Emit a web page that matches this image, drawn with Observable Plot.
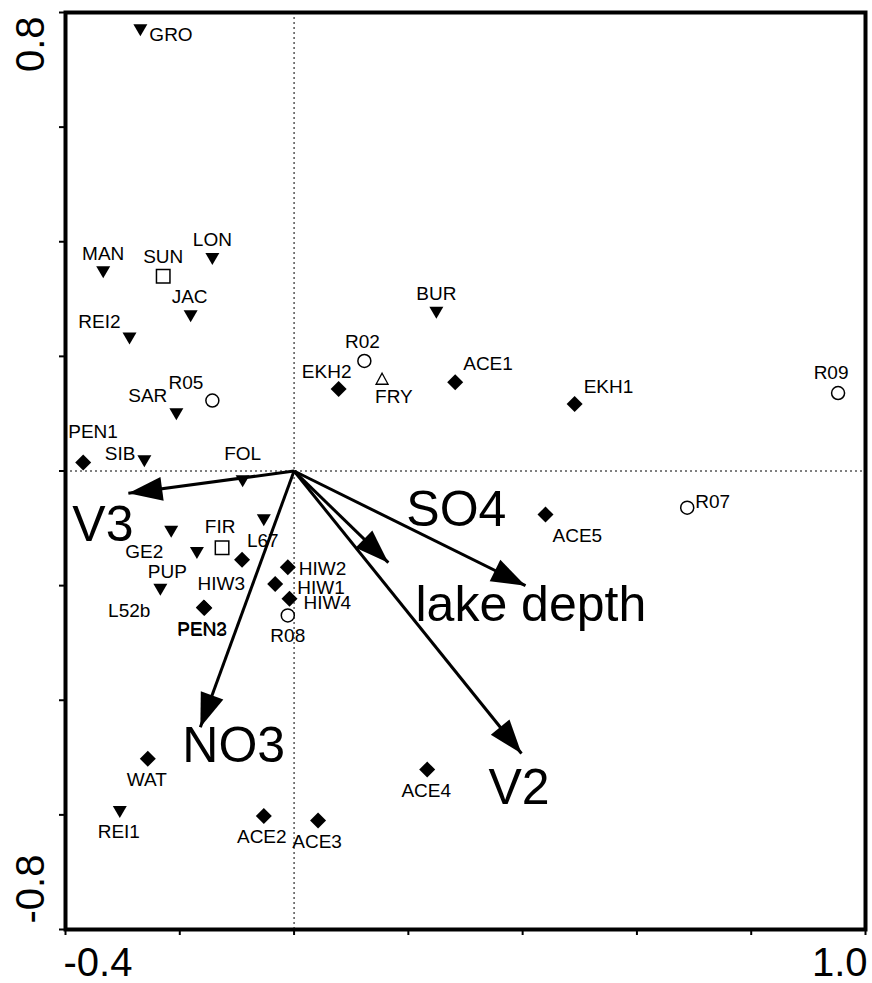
<!DOCTYPE html>
<html>
<head>
<meta charset="utf-8">
<script src="https://cdn.jsdelivr.net/npm/d3@7"></script>
<script src="https://cdn.jsdelivr.net/npm/@observablehq/plot@0.6"></script>
<style>
  html, body { margin: 0; padding: 0; background: #fff; }
  #chart svg { display: block; }
</style>
</head>
<body>
<div id="chart"></div>
<script>
// ---- Site scores (ordination axis 1, axis 2) ----
const siteNames = ["GRO","MAN","SUN","LON","JAC","REI2","R05","SAR","PEN1","SIB","FOL",
  "BUR","R02","EKH2","FRY","ACE1","EKH1","R09","R07","ACE5",
  "GE2","FIR","PUP","L67","HIW3","L52b","PEN2","PEN3","HIW2","HIW1","HIW4","R08",
  "WAT","REI1","ACE2","ACE3","ACE4"];
const siteX = [-0.269,-0.334,-0.229,-0.143,-0.181,-0.288,-0.143,-0.206,-0.369,-0.262,-0.090,
  0.249,0.123,0.078,0.154,0.282,0.491,0.952,0.688,0.440,
  -0.215,-0.126,-0.170,-0.053,-0.091,-0.234,-0.158,-0.157,-0.011,-0.033,-0.008,-0.011,
  -0.256,-0.305,-0.053,0.042,0.233];
const siteY = [0.769,0.347,0.340,0.370,0.270,0.231,0.123,0.099,0.015,0.017,-0.018,
  0.276,0.192,0.143,0.161,0.155,0.117,0.136,-0.064,-0.076,
  -0.106,-0.134,-0.143,-0.086,-0.155,-0.207,-0.238,-0.239,-0.168,-0.197,-0.223,-0.252,
  -0.502,-0.595,-0.602,-0.610,-0.521];
const siteGroup = ["tri","tri","square","tri","tri","tri","circle","tri","diamond","tri","tri",
  "tri","circle","diamond","triUp","diamond","diamond","circle","circle","diamond",
  "tri","square","tri","tri","diamond","tri","diamond","diamond","diamond","diamond","diamond","circle",
  "diamond","tri","diamond","diamond","diamond"];
// label placement: [text anchor, dx, dy] relative to the marker
const labelPlacement = [["start",9,11],["middle",0,-12],["middle",0,-13],["middle",0,-13],["middle",-1,-13],
  ["end",-9,-11],["end",-9,-12],["end",-9,-12],["start",-15,-24],["end",-9,-1],["middle",0,-21],
  ["middle",0,-13],["middle",-2,-13],["middle",-12,-11],["start",-7,24],["start",8,-12],["start",9,-11],
  ["middle",-7,-14],["start",8,0],["start",7,27],
  ["end",-8,26],["middle",-2,-15],["end",-10,25],["middle",-1,27],["end",3,30],["end",-10,27],
  ["middle",-2,28],["middle",-2,28],["start",11,8],["start",22,10],["start",14,10],["middle",0,27],
  ["middle",-1,27],["middle",-1,26],["middle",-2,27],["middle",-1,27],["middle",-1,27]];

// ---- Environmental variable arrows (biplot scores) ----
const varNames = ["V3","NO3","SO4","lake depth","V2"];
const varX = [-0.290,-0.164,0.165,0.405,0.398];
const varY = [-0.039,-0.447,-0.160,-0.200,-0.493];
const varLabelPlacement = [[-56,48],[-18,35],[18,-37],[-110,35],[-33,50]];

// ---- Axes ----
const xTicks = [-0.4,-0.2,0,0.2,0.4,0.6,0.8,1.0];
const yTicks = [-0.8,-0.6,-0.4,-0.2,0,0.2,0.4,0.6,0.8];
const xTickLabels = [{v: -0.4, t: "-0.4"}, {v: 1.0, t: "1.0"}];
const yTickLabels = [{v: 0.8, t: "0.8"}, {v: -0.8, t: "-0.8"}];

const sites = siteNames.map((name, i) => ({name, x: siteX[i], y: siteY[i], group: siteGroup[i], place: labelPlacement[i]}));
const vars = varNames.map((name, i) => ({name, x: varX[i], y: varY[i], place: varLabelPlacement[i],
  angle: Math.atan2(-varY[i], varX[i]) * 180 / Math.PI}));

const triDown = {draw(c) { c.moveTo(-7,-6); c.lineTo(7,-6); c.lineTo(0,6); c.closePath(); }};
const diamond = {draw(c) { c.moveTo(0,-8); c.lineTo(8,0); c.lineTo(0,8); c.lineTo(-8,0); c.closePath(); }};
const square = {draw(c) { c.rect(-6.75,-6.75,13.5,13.5); }};
const triUp = {draw(c) { c.moveTo(0,-5.5); c.lineTo(6,5.5); c.lineTo(-6,5.5); c.closePath(); }};
const head = {draw(c) { c.moveTo(0,0); c.lineTo(-34,-12); c.lineTo(-34,12); c.closePath(); }};

const font = "'Liberation Sans', Arial, sans-serif";

const siteLabels = sites.map(d => Plot.text([d], {
  x: "x", y: "y", text: "name", textAnchor: d.place[0], dx: d.place[1], dy: d.place[2],
  lineAnchor: "bottom", fontSize: 19, fill: "black"
}));
const varLabels = vars.map(d => Plot.text([d], {
  x: "x", y: "y", text: "name", textAnchor: "start", dx: d.place[0], dy: d.place[1],
  lineAnchor: "bottom", fontSize: 50, fill: "black"
}));

const chart = Plot.plot({
  width: 872,
  height: 983,
  marginLeft: 65,
  marginRight: 7,
  marginTop: 12,
  marginBottom: 54,
  style: {fontFamily: font, background: "white"},
  x: {domain: [-0.4, 1.0], label: null},
  y: {domain: [-0.8, 0.8], label: null},
  marks: [
    Plot.ruleX([0], {stroke: "black", strokeWidth: 1, strokeDasharray: "2,3"}),
    Plot.ruleY([0], {stroke: "black", strokeWidth: 1, strokeDasharray: "2,3"}),
    Plot.link(vars, {x1: () => 0, y1: () => 0, x2: "x", y2: "y", stroke: "black", strokeWidth: 3}),
    Plot.dot(vars, {x: "x", y: "y", symbol: head, r: 10, rotate: "angle", fill: "black", stroke: "none"}),
    Plot.dot(sites.filter(d => d.group === "tri"), {x: "x", y: "y", symbol: triDown, r: 5, fill: "black", stroke: "none"}),
    Plot.dot(sites.filter(d => d.group === "diamond"), {x: "x", y: "y", symbol: diamond, r: 5, fill: "black", stroke: "none"}),
    Plot.dot(sites.filter(d => d.group === "square"), {x: "x", y: "y", symbol: square, r: 5, fill: "white", stroke: "black", strokeWidth: 1.5}),
    Plot.dot(sites.filter(d => d.group === "circle"), {x: "x", y: "y", symbol: "circle", r: 6.5, fill: "white", stroke: "black", strokeWidth: 1.5}),
    Plot.dot(sites.filter(d => d.group === "triUp"), {x: "x", y: "y", symbol: triUp, r: 5, fill: "white", stroke: "black", strokeWidth: 1.3}),
    ...siteLabels,
    ...varLabels,
    Plot.axisX({ticks: xTicks, tickSize: 6, tickFormat: () => "", label: null, strokeWidth: 2}),
    Plot.axisY({ticks: yTicks, tickSize: 6, tickFormat: () => "", label: null, strokeWidth: 2}),
    Plot.frame({stroke: "black", strokeWidth: 4}),
    Plot.text(xTickLabels.slice(0, 1), {x: "v", y: () => -0.8, text: "t", textAnchor: "start", dx: -2, dy: 46, lineAnchor: "bottom", fontSize: 40, fill: "black"}),
    Plot.text(xTickLabels.slice(1), {x: "v", y: () => -0.8, text: "t", textAnchor: "end", dx: 2, dy: 46, lineAnchor: "bottom", fontSize: 40, fill: "black"}),
    Plot.text(yTickLabels.slice(0, 1), {x: () => -0.4, y: "v", text: "t", rotate: -90, textAnchor: "end", dx: -22, dy: 4, lineAnchor: "bottom", fontSize: 40, fill: "black"}),
    Plot.text(yTickLabels.slice(1), {x: () => -0.4, y: "v", text: "t", rotate: -90, textAnchor: "start", dx: -22, dy: -6, lineAnchor: "bottom", fontSize: 40, fill: "black"})
  ]
});
document.getElementById("chart").appendChild(chart);
</script>
</body>
</html>
